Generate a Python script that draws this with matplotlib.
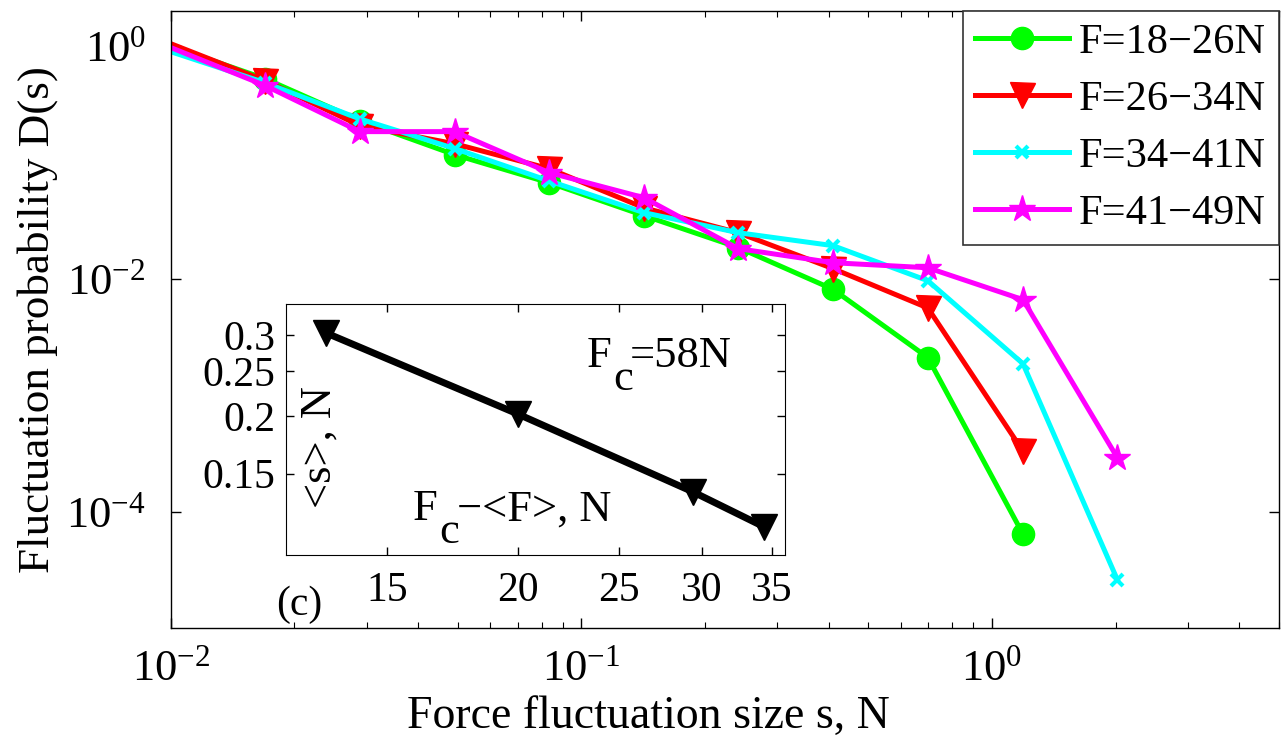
import matplotlib
matplotlib.use('Agg')
import matplotlib.pyplot as plt
from matplotlib.ticker import FixedLocator, NullLocator, LogLocator, NullFormatter, FixedFormatter

plt.rcParams['font.family'] = ['Liberation Serif', 'DejaVu Serif']
plt.rcParams['mathtext.fontset'] = 'custom'
plt.rcParams['mathtext.rm'] = 'Liberation Serif'
plt.rcParams['mathtext.it'] = 'Liberation Serif:italic'
plt.rcParams['mathtext.bf'] = 'Liberation Serif:bold'

# force fluctuation size s, N (log bins, the first one lies left of the x range)
s = [0.0059, 0.017, 0.0289, 0.0491, 0.0835, 0.142, 0.241, 0.41, 0.698, 1.19, 2.02]

# fluctuation probability D(s) for each force window
d_18_26 = [1.89, 0.52, 0.227, 0.116, 0.0665, 0.0348, 0.0185, 0.0081, 0.0021, 6.4e-5]
d_26_34 = [2.16, 0.50, 0.206, 0.144, 0.088, 0.0406, 0.0248, 0.0122, 0.0056, 3.3e-4]
d_34_41 = [1.64, 0.48, 0.235, 0.131, 0.069, 0.0369, 0.0248, 0.0192, 0.0096, 0.00186, 2.6e-5]
d_41_49 = [2.04, 0.454, 0.183, 0.183, 0.0813, 0.0496, 0.0181, 0.0137, 0.0124, 0.0066, 2.9e-4]

labels = ['F=18\u221226N', 'F=26\u221234N', 'F=34\u221241N', 'F=41\u221249N']

# inset: mean fluctuation size vs distance to critical force
dF = [13.1, 20.0, 29.4, 34.4]
mean_s = [0.303, 0.202, 0.137, 0.115]

fig = plt.figure(figsize=(12.81, 7.52), dpi=100)
ax = fig.add_axes([0.1333, 0.1649, 0.8651, 0.8209])

ax.plot(s[:len(d_18_26)], d_18_26, '-o', color='#00ff00', lw=3.6, ms=16, label=labels[0])
ax.plot(s[:len(d_26_34)], d_26_34, '-v', color='#ff0000', lw=3.6, ms=18, label=labels[1])
ax.plot(s[:len(d_34_41)], d_34_41, '-x', color='#00ffff', lw=3.6, ms=9, mew=3, label=labels[2])
ax.plot(s[:len(d_41_49)], d_41_49, '-*', color='#ff00ff', lw=3.6, ms=20, label=labels[3])

ax.set_xscale('log')
ax.set_yscale('log')
ax.set_xlim(0.01, 5)
ax.set_ylim(1e-5, 2)
ax.yaxis.set_major_locator(FixedLocator([1e-4, 1e-2, 1]))
ax.yaxis.set_minor_locator(NullLocator())
ax.xaxis.set_minor_locator(LogLocator(base=10, subs=range(2, 10)))
ax.xaxis.set_minor_formatter(NullFormatter())
ax.tick_params(which='both', direction='in', top=True, right=True, labelsize=32)
ax.tick_params(which='major', length=7, width=1)
ax.tick_params(which='minor', length=4, width=0.8)
ax.tick_params(axis='x', pad=15)
ax.tick_params(axis='y', pad=18)
for sp in ax.spines.values():
    sp.set_linewidth(1.0)

ax.set_ylabel('Fluctuation probability D(s)', fontsize=32.5, labelpad=6)
fig.text(0.506, 0.047, 'Force fluctuation size s, N', fontsize=33, ha='center', va='center')

leg = ax.legend(loc='upper right', borderaxespad=0, fontsize=30.5, fancybox=False,
                edgecolor='#333333', framealpha=1, handlelength=2.2, handletextpad=0.25,
                borderpad=0.3, labelspacing=0.43)
leg.get_frame().set_linewidth(1.2)

# inset
axi = fig.add_axes([0.2233, 0.262, 0.3895, 0.3338])
axi.plot(dF, mean_s, '-v', color='black', lw=5, ms=19)
axi.set_xscale('log')
axi.set_yscale('log')
axi.set_xlim(12, 36)
axi.set_ylim(0.1, 0.35)
axi.xaxis.set_major_locator(FixedLocator([15, 20, 25, 30, 35]))
axi.xaxis.set_major_formatter(FixedFormatter(['15', '20', '25', '30', '35']))
axi.xaxis.set_minor_locator(NullLocator())
axi.yaxis.set_major_locator(FixedLocator([0.15, 0.2, 0.25, 0.3]))
axi.yaxis.set_major_formatter(FixedFormatter(['0.15', '0.2', '0.25', '0.3']))
axi.yaxis.set_minor_locator(NullLocator())
axi.tick_params(direction='in', top=True, right=True, labelsize=30, length=6, width=1)
axi.tick_params(axis='x', pad=12)
axi.tick_params(axis='y', pad=8)

# inset annotations, subscript c drawn as its own lowered text
tsize = 32
axi.text(0.603, 0.749, 'F', transform=axi.transAxes, fontsize=tsize, va='baseline')
axi.text(0.655, 0.657, 'c', transform=axi.transAxes, fontsize=tsize, va='baseline')
axi.text(0.689, 0.749, '=58N', transform=axi.transAxes, fontsize=tsize, va='baseline')
axi.text(0.2545, 0.139, 'F', transform=axi.transAxes, fontsize=tsize, va='baseline')
axi.text(0.3066, 0.048, 'c', transform=axi.transAxes, fontsize=tsize, va='baseline')
axi.text(0.3427, 0.139, '\u2212<F>, N', transform=axi.transAxes, fontsize=tsize, va='baseline')
axi.text(0.068, 0.43, '<s>, N', transform=axi.transAxes, fontsize=tsize, rotation=90,
         ha='center', va='center')
fig.text(0.2155, 0.1955, '(c)', fontsize=30, ha='left', va='center')

fig.savefig('out.png', dpi=100)
